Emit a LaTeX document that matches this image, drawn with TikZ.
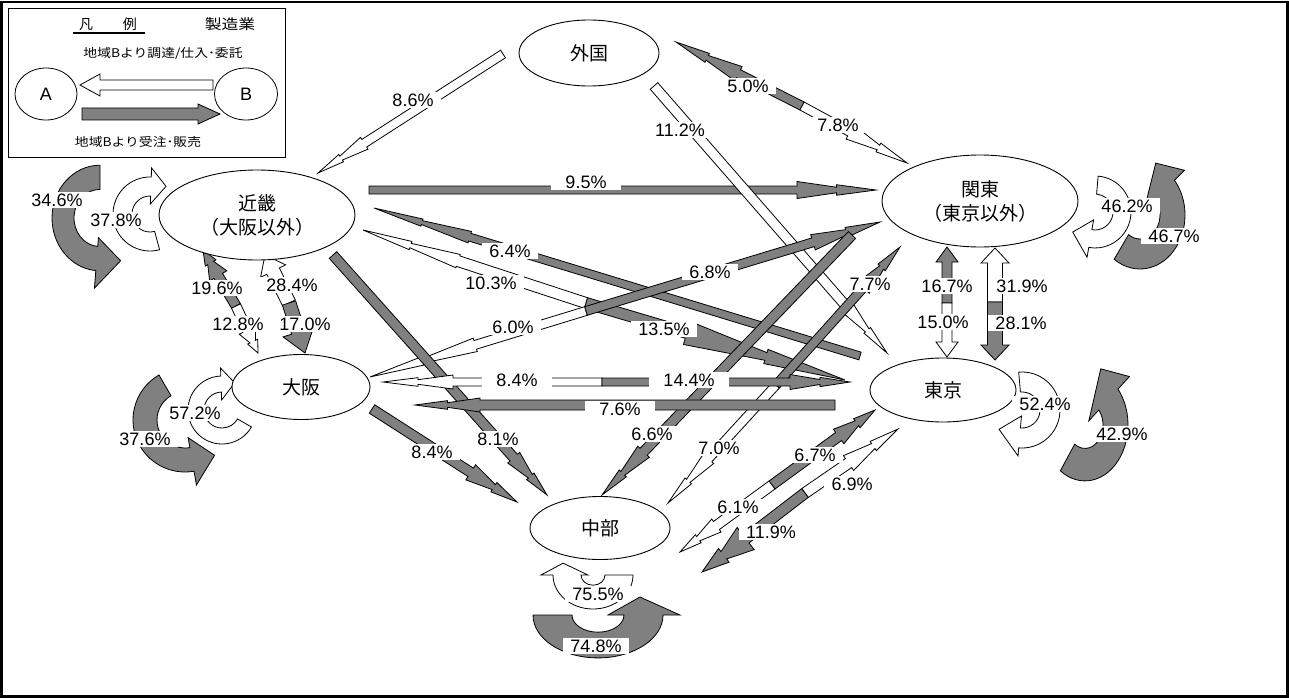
\documentclass[tikz,border=0pt]{standalone}
\usepackage{fontspec}
\setmainfont{Liberation Sans}
\newfontfamily\jpfont{Noto Sans CJK JP}
\usetikzlibrary{calc,shapes.geometric}
\definecolor{flowgray}{RGB}{128,128,128}

% #1 tail, #2 tip, #3 shaft width, #4 head half width, #5 head length,
% #6 #7 half widths (fractions of #4) before/after notch, #8 notch position, #9 style
\newcommand\flowcore[9]{%
  \path (#1); \pgfgetlastxy{\arXa}{\arYa}%
  \path (#2); \pgfgetlastxy{\arXb}{\arYb}%
  \pgfmathsetmacro\arAng{atan2((\arYb)-(\arYa),(\arXb)-(\arXa))}%
  \pgfmathsetmacro\arLen{veclen((\arXb)-(\arXa),(\arYb)-(\arYa))}%
  \pgfmathsetmacro\arS{#3/2}%
  \pgfmathsetmacro\arB{\arLen-#5}%
  \pgfmathsetmacro\arM{\arLen-#5*#8}%
  \pgfmathsetmacro\arHa{#4*#6}%
  \pgfmathsetmacro\arHc{#4*#7}%
  \begin{scope}[shift={(#1)},rotate=\arAng,x=1pt,y=1pt]
    \draw[#9] (0,\arS) -- (\arB,\arS) -- (\arB,#4) -- (\arM,\arHa) -- (\arM,\arHc) -- (\arLen,0)
      -- (\arM,-\arHc) -- (\arM,-\arHa) -- (\arB,-#4) -- (\arB,-\arS) -- (0,-\arS) -- cycle;
  \end{scope}}
\newcommand\boltarrow[6]{\flowcore{#1}{#2}{#3}{#4}{#5}{0.33}{0.62}{0.5}{#6}}
\newcommand\blockarrow[6]{\flowcore{#1}{#2}{#3}{#4}{#5}{0.5}{0.5}{0.5}{#6}}

% #1 scope options, #2 r1, #3 r2, #4 a1, #5 a2, #6 head inner r, #7 head outer r, #8 tip, #9 style
\newcommand\looparrow[9]{%
  \begin{scope}[#1]
    \draw[#9] (#4:#3) arc[start angle=#4,end angle=#5,radius=#3] -- (#5:#7) -- (#8) -- (#5:#6)
      -- (#5:#2) arc[start angle=#5,end angle=#4,radius=#2] -- cycle;
  \end{scope}}

\begin{document}
\begin{tikzpicture}[x=1pt,y=-1pt,
  gfill/.style={draw=black,fill=flowgray,line width=0.8pt,line join=miter},
  wfill/.style={draw=black,fill=white,line width=0.8pt,line join=miter},
  pct/.style={fill=white,inner xsep=7pt,inner ysep=1.5pt,text height=13pt,text depth=0.5pt,
    font=\fontsize{18}{18}\selectfont},
  pctw/.style={pct,inner xsep=14pt},
  region/.style={draw,ellipse,fill=white,line width=0.9pt,inner sep=0pt,align=center,
    font=\jpfont\fontsize{19}{24}\selectfont},
  legtext/.style={font=\jpfont\fontsize{12}{12}\selectfont,inner sep=1pt}]
\useasboundingbox (0,0) rectangle (1289,698);
\draw[line width=2.5pt] (1.5,2) rectangle (1287.5,696.5);

% ---------- legend ----------
\node[draw,line width=0.8pt,minimum width=277pt,minimum height=149pt,anchor=north west,inner sep=0pt] (legend) at (8,8) {};
\node[font=\jpfont\fontsize{14}{14}\selectfont] (legh) at (108,24) {凡\hspace{30pt}例};
\draw[line width=1.2pt] (legh.south west) ++(-2,-1) coordinate (ul1) -- ($(ul1)+(72,0)$);
\node[font=\jpfont\fontsize{14}{14}\selectfont] (legm) at (230,24) {\scalebox{1.2}[1]{製造業}};
\node[legtext] (legt1) at (163,54) {\scalebox{1.15}[1]{地域Bより調達/仕入･委託}};
\node[legtext] (legt2) at (138,142) {\scalebox{1.15}[1]{地域Bより受注･販売}};
\node[draw,ellipse,line width=0.8pt,minimum width=62pt,minimum height=52pt,inner sep=0pt,font=\fontsize{18}{18}\selectfont] (legA) at (46,94) {A};
\node[draw,ellipse,line width=0.8pt,minimum width=63pt,minimum height=52pt,inner sep=0pt,font=\fontsize{18}{18}\selectfont] (legB) at (246,94) {B};
\coordinate (lw1) at (213,85); \coordinate (lw2) at (80,85);
\coordinate (lg1) at (82,114); \coordinate (lg2) at (220,114);
\blockarrow{lw1}{lw2}{10}{11}{20}{wfill}
\blockarrow{lg1}{lg2}{12}{10}{22}{gfill}

% ---------- self loops ----------
\looparrow{shift={(100,218)},yscale=1.1}{26}{48}{270}{95}{18}{64}{62:44}{gfill}
\looparrow{shift={(150,214)}}{18}{37}{75}{272}{10}{46}{300:32}{wfill}
\looparrow{shift={(185,420)}}{28}{52}{240}{80}{18}{66}{50:46}{gfill}
\looparrow{shift={(222,410)}}{18}{34}{30}{268}{10}{42}{295:30}{wfill}
\looparrow{shift={(1095,212)}}{18}{36}{-85}{100}{8}{46}{138:30}{wfill}
\looparrow{shift={(1140,215)},yscale=1.2}{20}{45}{125}{-40}{5}{58}{-70:46}{gfill}
\looparrow{shift={(1022,410)}}{18}{38}{265}{455}{6}{46}{140:30}{wfill}
\looparrow{shift={(1085,425)},yscale=1.3}{18}{43}{125}{-40}{5}{58}{-70:46}{gfill}
\looparrow{shift={(593,575)},yscale=.85}{12}{40}{0}{180}{5}{52}{205:33}{wfill}
\looparrow{shift={(598,615)},yscale=.66}{26}{65}{180}{0}{10}{82}{-33:50}{gfill}

% ---------- flow arrows ----------
% 外国 -> 近畿 8.6
\coordinate (f86a) at (503,54); \coordinate (f86b) at (318,173);
\boltarrow{f86a}{f86b}{9}{7}{55}{wfill}
% 近畿 -> 関東 9.5
\coordinate (f95a) at (369,190); \coordinate (f95b) at (876,190);
\boltarrow{f95a}{f95b}{8}{8.5}{79}{gfill}
% 外国 <-> 関東 5.0 / 7.8
\coordinate (f50s) at (802,106); \coordinate (f50b) at (676,42); \coordinate (f78b) at (907,163);
\boltarrow{f50s}{f50b}{9}{8}{70}{gfill}
\boltarrow{f50s}{f78b}{9}{8}{65}{wfill}
% 外国 -> 東京 11.2
\coordinate (f112a) at (654,86); \coordinate (f112b) at (887,353);
\boltarrow{f112a}{f112b}{10}{7}{60}{wfill}
% 東京 -> 近畿 6.4
\coordinate (f64a) at (860,356); \coordinate (f64b) at (374,208);
\boltarrow{f64a}{f64b}{8}{6}{100}{gfill}
% 近畿 <-> 東京 10.3 / 13.5
\coordinate (f103s) at (586,303); \coordinate (f103b) at (363,230); \coordinate (f135b) at (845,380);
\boltarrow{f103s}{f103b}{11}{7}{100}{wfill}
\boltarrow{f103s}{f135b}{11}{12}{165}{gfill}
% 大阪 <-> 関東 6.0 / 6.8
\coordinate (f60s) at (586,311); \coordinate (f60b) at (370,377); \coordinate (f68b) at (880,222);
\boltarrow{f60s}{f60b}{9}{7}{110}{wfill}
\boltarrow{f60s}{f68b}{9}{8}{70}{gfill}
% 関東 -> 中部 6.6
\coordinate (f66a) at (852,235); \coordinate (f66b) at (602,495);
\boltarrow{f66a}{f66b}{10}{8}{60}{gfill}
% 中部 <-> 関東 7.0 / 7.7
\coordinate (f70s) at (776,385); \coordinate (f70b) at (668,503); \coordinate (f77b) at (900,247);
\boltarrow{f70s}{f70b}{9}{7}{60}{wfill}
\boltarrow{f70s}{f77b}{9}{8}{55}{gfill}
% 近畿 -> 中部 8.1
\coordinate (f81a) at (333,255); \coordinate (f81b) at (547,495);
\boltarrow{f81a}{f81b}{10}{8}{50}{gfill}
% 大阪 -> 中部 8.4
\coordinate (f84a) at (372,409); \coordinate (f84b) at (517,502);
\boltarrow{f84a}{f84b}{10}{9}{55}{gfill}
% 大阪 <-> 東京 8.4 / 14.4
\coordinate (f144s) at (602,382); \coordinate (f84w) at (383,382); \coordinate (f144b) at (850,382);
\boltarrow{f144s}{f84w}{8}{7}{70}{wfill}
\boltarrow{f144s}{f144b}{8}{7.5}{60}{gfill}
% 東京 -> 大阪 7.6
\coordinate (f76a) at (835,405); \coordinate (f76b) at (415,405);
\boltarrow{f76a}{f76b}{10}{7}{65}{gfill}
% 近畿 <-> 大阪 19.6 / 12.8
\coordinate (f196s) at (236,306); \coordinate (f196b) at (203,250); \coordinate (f128b) at (258,353);
\boltarrow{f196s}{f196b}{10}{10}{30}{gfill}
\boltarrow{f196s}{f128b}{10}{9}{25}{wfill}
% 近畿 <-> 大阪 28.4 / 17.0
\coordinate (f284s) at (289,303); \coordinate (f284b) at (265,255); \coordinate (f170b) at (305,353);
\blockarrow{f284s}{f284b}{14}{14}{18}{wfill}
\blockarrow{f284s}{f170b}{14}{16}{22}{gfill}
% 関東 <-> 東京 16.7 / 15.0
\coordinate (f167s) at (947,303); \coordinate (f167b) at (947,247); \coordinate (f150b) at (947,357);
\blockarrow{f167s}{f167b}{10}{11}{15}{gfill}
\blockarrow{f167s}{f150b}{10}{11}{15}{wfill}
% 関東 <-> 東京 31.9 / 28.1
\coordinate (f319s) at (995,302); \coordinate (f319b) at (995,248); \coordinate (f281b) at (995,360);
\blockarrow{f319s}{f319b}{15}{14}{15}{wfill}
\blockarrow{f319s}{f281b}{15}{14}{15}{gfill}
% 東京 <-> 中部 6.7 / 6.1
\coordinate (f67s) at (772,485); \coordinate (f67b) at (875,410); \coordinate (f61b) at (680,552);
\boltarrow{f67s}{f67b}{10}{9}{45}{gfill}
\boltarrow{f67s}{f61b}{10}{8}{45}{wfill}
% 東京 <-> 中部 6.9 / 11.9
\coordinate (f69s) at (805,493); \coordinate (f69b) at (898,429); \coordinate (f119b) at (702,572);
\boltarrow{f69s}{f69b}{11}{9}{60}{wfill}
\boltarrow{f69s}{f119b}{11}{14}{55}{gfill}

% ---------- regions ----------
\node[region,minimum width=140pt,minimum height=66pt] (gaikoku) at (589,53) {外国};
\node[region,minimum width=196pt,minimum height=90pt] (kinki) at (257,215) {近畿\\（大阪以外）};
\node[region,minimum width=196pt,minimum height=92pt] (kanto) at (980,201) {関東\\（東京以外）};
\node[region,minimum width=138pt,minimum height=65pt] (osaka) at (301,387) {大阪};
\node[region,minimum width=146pt,minimum height=64pt] (tokyo) at (943,390) {東京};
\node[region,minimum width=140pt,minimum height=63pt] (chubu) at (600,528) {中部};

% ---------- labels ----------
\node[pct] (p86) at (413,100) {8.6\%};
\node[pctw] (p95) at (586,182) {9.5\%};
\node[pct] (p50) at (748,86) {5.0\%};
\node[pct] (p78) at (838,125) {7.8\%};
\node[pct] (p112) at (680,130) {11.2\%};
\node[pct] (p64) at (510,251) {6.4\%};
\node[pct] (p103) at (491,283) {10.3\%};
\node[pct] (p135) at (664,329) {13.5\%};
\node[pct] (p60) at (513,327) {6.0\%};
\node[pct] (p68) at (710,272) {6.8\%};
\node[pct] (p66) at (652,434) {6.6\%};
\node[pct] (p70) at (719,448) {7.0\%};
\node[pct] (p77) at (870,284) {7.7\%};
\node[pct] (p81) at (498,439) {8.1\%};
\node[pct] (p84b) at (432,452) {8.4\%};
\node[pctw] (p84) at (517,380) {8.4\%};
\node[pctw] (p144) at (689,380) {14.4\%};
\node[pctw] (p76) at (620,409) {7.6\%};
\node[pct] (p196) at (217,288) {19.6\%};
\node[pct] (p128) at (238,324) {12.8\%};
\node[pct] (p284) at (292,285) {28.4\%};
\node[pct] (p170) at (305,324) {17.0\%};
\node[pct] (p167) at (947,286) {16.7\%};
\node[pct] (p150) at (943,322) {15.0\%};
\node[pct] (p319) at (1022,286) {31.9\%};
\node[pct] (p281) at (1021,323) {28.1\%};
\node[pct] (p67) at (815,455) {6.7\%};
\node[pct] (p61) at (738,507) {6.1\%};
\node[pct] (p69) at (852,484) {6.9\%};
\node[pct] (p119) at (771,532) {11.9\%};
\node[pct] (p346) at (57,200) {34.6\%};
\node[pct] (p378) at (116,220) {37.8\%};
\node[pct] (p572) at (195,413) {57.2\%};
\node[pct] (p376) at (145,439) {37.6\%};
\node[pct] (p462) at (1127,206) {46.2\%};
\node[pct] (p467) at (1174,236) {46.7\%};
\node[pct] (p524) at (1045,404) {52.4\%};
\node[pct] (p429) at (1122,434) {42.9\%};
\node[pct] (p755) at (598,594) {75.5\%};
\node[pct] (p748) at (596,646) {74.8\%};
\end{tikzpicture}
\end{document}
